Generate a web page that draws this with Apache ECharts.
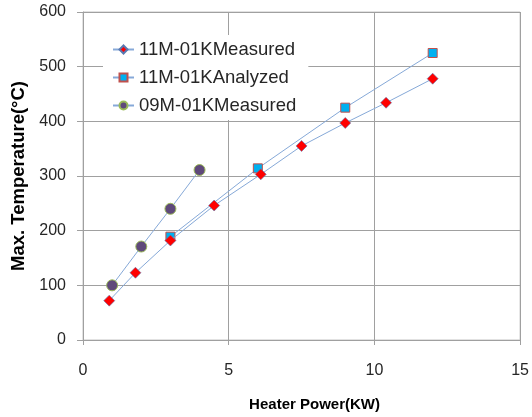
<!DOCTYPE html>
<html>
<head>
<meta charset="utf-8">
<script src="https://cdn.jsdelivr.net/npm/echarts@6/dist/echarts.min.js"></script>
<style>html,body{margin:0;padding:0;background:#fff;}#c{width:532px;height:417px;}</style>
</head>
<body>
<div id="c"></div>
<script>
const seriesNames = ['11M-01KMeasured', '11M-01KAnalyzed', '09M-01KMeasured'];
const measured11 = [[0.9, 72], [1.8, 123], [3.0, 182], [4.5, 246], [6.1, 303], [7.5, 355], [9.0, 397], [10.4, 434], [12.0, 478]];
const analyzed11 = [[3.0, 189], [6.0, 314], [9.0, 425], [12.0, 525]];
const measured09 = [[1.0, 100], [2.0, 171], [3.0, 240], [4.0, 311]];
const xTicks = [0, 5, 10, 15];
const yTicks = [0, 100, 200, 300, 400, 500, 600];

const chart = echarts.init(document.getElementById('c'), null, {renderer: 'canvas'});
const FONT = 'Liberation Sans';
const lineColor = '#86a9d8';
chart.setOption({
  animation: false,
  backgroundColor: '#fff',
  grid: {left: 83, right: 11, top: 12, bottom: 75, containLabel: false,
         show: true, borderColor: '#c4c4c4', borderWidth: 1},
  legend: {
    orient: 'vertical', left: 103, top: 35,
    padding: [5, 12, 5, 9],
    backgroundColor: '#fff',
    itemWidth: 21, itemHeight: 10, itemGap: 9,
    textStyle: {fontFamily: FONT, fontSize: 18.5, color: '#262626', lineHeight: 17},
    data: seriesNames
  },
  xAxis: {
    type: 'value', min: xTicks[0], max: xTicks[xTicks.length - 1], interval: 5,
    name: 'Heater Power(KW)', nameLocation: 'middle', nameGap: 57,
    nameTextStyle: {fontFamily: FONT, fontSize: 15, fontWeight: 'bold', color: '#000', padding: [0, 0, 0, 26]},
    axisLine: {show: true, lineStyle: {color: '#a0a0a0', width: 1}},
    axisTick: {show: true, length: 5, lineStyle: {color: '#a0a0a0'}},
    axisLabel: {fontFamily: FONT, fontSize: 16, color: '#262626', margin: 23},
    splitLine: {show: true, lineStyle: {color: '#a0a0a0', width: 1}}
  },
  yAxis: {
    type: 'value', min: yTicks[0], max: yTicks[yTicks.length - 1], interval: 100,
    name: 'Max. Temperature(°C)', nameLocation: 'middle', nameGap: 52,
    nameTextStyle: {fontFamily: FONT, fontSize: 18.5, fontWeight: 'bold', color: '#000'},
    axisLine: {show: true, lineStyle: {color: '#a0a0a0', width: 1}},
    axisTick: {show: true, length: 6, lineStyle: {color: '#a0a0a0'}},
    axisLabel: {fontFamily: FONT, fontSize: 16, color: '#262626', margin: 17},
    splitLine: {show: true, lineStyle: {color: '#a0a0a0', width: 1}}
  },
  series: [
    {name: seriesNames[0], type: 'line', data: measured11, symbol: 'diamond', symbolSize: 11,
     lineStyle: {color: lineColor, width: 1}, itemStyle: {color: '#ff0000', borderColor: '#5a78b0', borderWidth: 0.6}, z: 3},
    {name: seriesNames[1], type: 'line', data: analyzed11, symbol: 'rect', symbolSize: 9,
     lineStyle: {color: lineColor, width: 1}, itemStyle: {color: '#00b0f0', borderColor: '#c0504d', borderWidth: 1}, z: 2},
    {name: seriesNames[2], type: 'line', data: measured09, symbol: 'circle', symbolSize: 11,
     lineStyle: {color: lineColor, width: 1}, itemStyle: {color: '#5f497a', borderColor: '#9bbb59', borderWidth: 1}, z: 2}
  ]
});
</script>
</body>
</html>
